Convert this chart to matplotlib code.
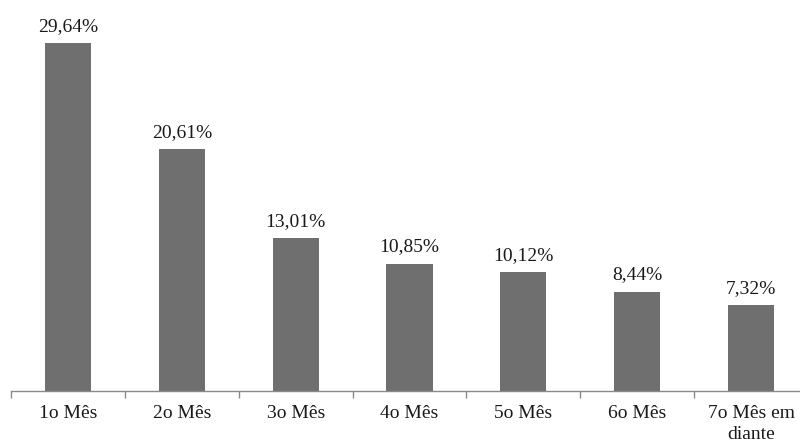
import matplotlib
matplotlib.use("Agg")
import matplotlib.pyplot as plt

# Dados do gráfico
meses = ['1o Mês', '2o Mês', '3o Mês', '4o Mês', '5o Mês', '6o Mês', '7o Mês em\ndiante']
valores = [29.64, 20.61, 13.01, 10.85, 10.12, 8.44, 7.32]
rotulos = ['29,64%', '20,61%', '13,01%', '10,85%', '10,12%', '8,44%', '7,32%']

plt.rcParams['font.family'] = 'serif'
plt.rcParams['font.serif'] = ['Liberation Serif', 'DejaVu Serif']

fig = plt.figure(figsize=(8, 4.47), dpi=100)
ax = fig.add_axes([11 / 800, 56 / 447, 797 / 800, 391 / 447])

x = list(range(len(meses)))
ax.bar(x, valores, width=0.405, color='#6f6f6f')

for xi, v, r in zip(x, valores, rotulos):
    ax.annotate(r, (xi, v), xytext=(0, 6), textcoords='offset points',
                ha='center', va='bottom', fontsize=14, color='#1a1a1a')

ax.set_xlim(-0.5, len(meses) - 0.5)
ax.set_ylim(0, 33.3)

for s in ['top', 'right', 'left']:
    ax.spines[s].set_visible(False)
ax.spines['bottom'].set_color('#8a8a8a')
ax.spines['bottom'].set_linewidth(1.0)

ax.set_yticks([])
ax.set_xticks([i - 0.5 for i in range(len(meses) + 1)], minor=False)
ax.set_xticklabels([])
ax.tick_params(axis='x', which='major', length=5, color='#8a8a8a', width=1.0)
ax.set_xticks(x, minor=True)
ax.set_xticklabels(meses, minor=True, fontsize=14, linespacing=1.35, color='#1a1a1a')
ax.tick_params(axis='x', which='minor', length=0, pad=10)

fig.savefig('out.png', dpi=100)
